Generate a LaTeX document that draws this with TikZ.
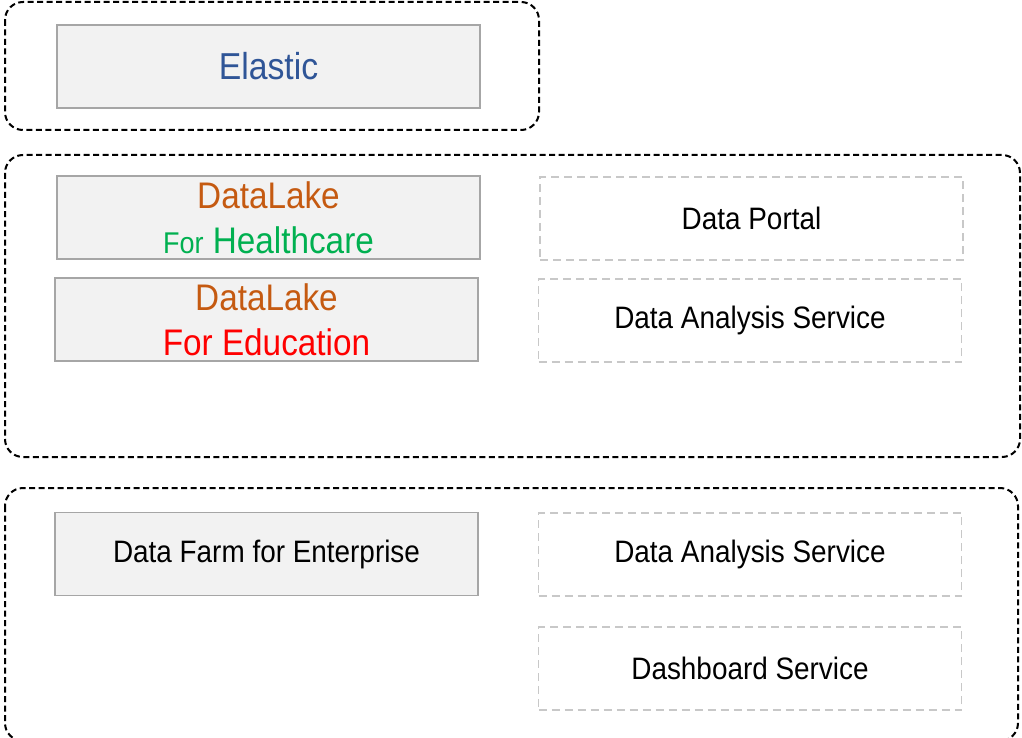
\documentclass[tikz,border=0pt]{standalone}
\usepackage{fontspec}
\setmainfont[FakeStretch=0.9]{Liberation Sans}
\definecolor{elasticblue}{HTML}{2F5597}
\definecolor{lakeorange}{HTML}{C55A11}
\definecolor{healthgreen}{HTML}{00B050}
\definecolor{boxfill}{HTML}{F2F2F2}
\definecolor{boxline}{HTML}{A6A6A6}
\definecolor{svcline}{HTML}{C8C8C8}
\begin{document}
\begin{tikzpicture}[x=1pt,y=-1pt,
	frame/.style={draw=black,line width=2pt,dash pattern=on 6pt off 3.5pt,rounded corners=18pt},
	product/.style={draw=boxline,fill=boxfill,line width=1.5pt,minimum width=423pt,minimum height=83pt,inner sep=0pt,align=center},
	service/.style={draw=svcline,line width=1.5pt,dash pattern=on 8pt off 5pt,minimum width=423pt,minimum height=83pt,inner sep=0pt,align=center,font=\fontsize{31}{36}\selectfont}]
		\useasboundingbox (0,0) rectangle (1022,738);
		% outer dashed frames
		\draw[frame] (5,2) rectangle (539,130);
		\draw[frame] (5,155) rectangle (1020,457);
		\draw[frame] (5,488) rectangle (1018,741);
		% products
		\node[product,font=\fontsize{37.5}{40}\selectfont,text=elasticblue] (elastic) at (268.5,66.5) {Elastic};
		\node[product,font=\fontsize{37}{45}\selectfont] (health) at (268.5,217.5)
			{\textcolor{lakeorange}{DataLake}\\[0pt]\textcolor{healthgreen}{{\fontsize{30}{45}\selectfont For} Healthcare}};
		\node[product,font=\fontsize{37}{45}\selectfont] (edu) at (266.5,319.5)
			{\textcolor{lakeorange}{DataLake}\\[0pt]\textcolor{red}{For Education}};
		\node[product,font=\fontsize{31}{36}\selectfont] (farm) at (266.5,554) {Data Farm for Enterprise};
		% services
		\node[service] (portal) at (751.5,218.5) {Data Portal};
		\node[service] (analysis) at (750,320.5) {Data Analysis Service};
		\node[service] (analysis2) at (750,554.5) {Data Analysis Service};
		\node[service] (dashboard) at (750,668.5) {Dashboard Service};
\end{tikzpicture}
\end{document}
